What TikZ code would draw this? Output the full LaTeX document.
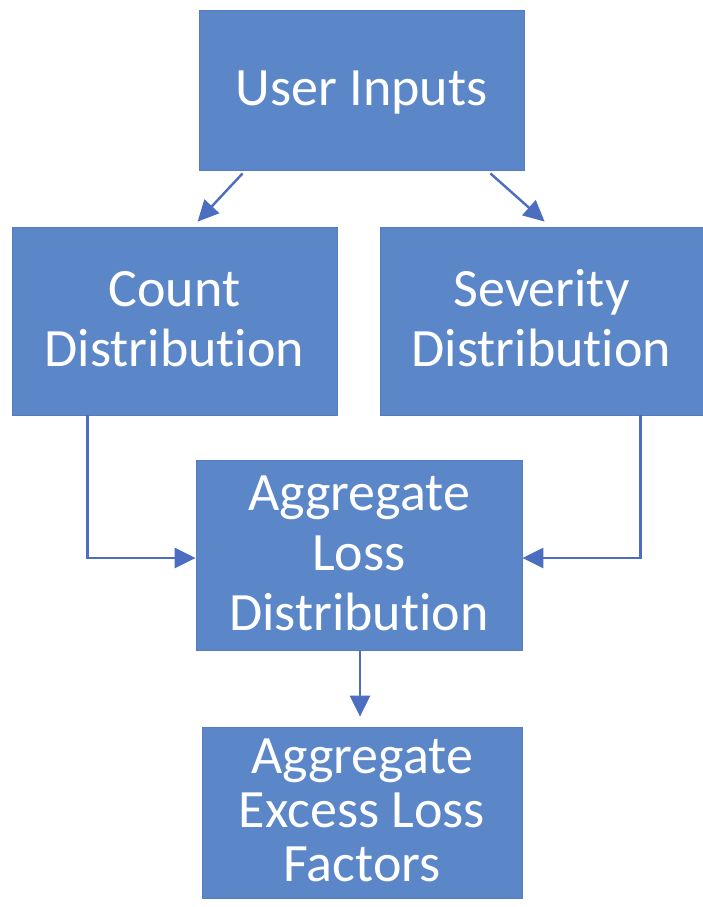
\documentclass[tikz,border=0pt]{standalone}
\usepackage{fontspec}
\setmainfont{Carlito}[Ligatures={NoCommon,NoRequired,NoContextual}]
\usetikzlibrary{arrows.meta,calc}
\definecolor{boxblue}{RGB}{91,135,201}
\definecolor{boxedge}{RGB}{84,124,192}
\definecolor{linkblue}{RGB}{76,110,192}
\newcommand\topstrut{\rule{0pt}{42pt}}
\newcommand\botstrut{\rule[-12pt]{0pt}{12pt}}
\begin{document}
\begin{tikzpicture}[x=1pt,y=-1pt,
  flowbox/.style={rectangle,fill=boxblue,draw=boxedge,line width=0.8pt,
    text=white,inner sep=0pt,align=center,
    font=\fontsize{54}{60}\selectfont},
  link/.style={draw=linkblue,line width=2.4pt,
    -{Triangle[length=21pt,width=20pt]}}]
  \useasboundingbox[fill=white] (0,0) rectangle (703,907);

  \node[flowbox,minimum width=325pt,minimum height=160pt] (ui) at (361.5,90)
    {\topstrut User Inputs\botstrut};
  \node[flowbox,minimum width=325pt,minimum height=188pt] (cnt) at (174.5,321)
    {\topstrut Count\\Distribution\botstrut};
  \node[flowbox,minimum width=323pt,minimum height=188pt] (sev) at (541.5,321)
    {\topstrut Severity\\Distribution\botstrut};
  \node[flowbox,minimum width=326pt,minimum height=190pt] (agg) at (359,555)
    {\topstrut Aggregate\\Loss\\Distribution\botstrut};
  \node[flowbox,minimum width=320pt,minimum height=171pt,
    font=\fontsize{54}{54}\selectfont] (exc) at (362,812.5)
    {\topstrut Aggregate\\Excess Loss\\Factors\botstrut};

  % inputs feed the two distributions
  \draw[link] ($(ui.south west)+(44,3)$) -- ($(cnt.north west)+(186,-5)$);
  \draw[link] ($(ui.south east)+(-34,3)$) -- ($(sev.north west)+(165,-5)$);

  % both distributions combine into the aggregate loss
  \coordinate (cntout) at ($(cnt.south west)+(76,0)$);
  \coordinate (aggin) at ($(agg.west)+(0,3)$);
  \draw[link] (cntout) |- (aggin);
  \coordinate (sevout) at ($(sev.south west)+(261,0)$);
  \coordinate (aggin2) at ($(agg.east)+(0,3)$);
  \draw[link] (sevout) |- (aggin2);

  % aggregate loss gives the excess loss factors
  \draw[link,shorten >=10pt] ($(agg.south)+(1,0)$) -- ($(agg.south |- exc.north)+(1,0)$);
\end{tikzpicture}
\end{document}
